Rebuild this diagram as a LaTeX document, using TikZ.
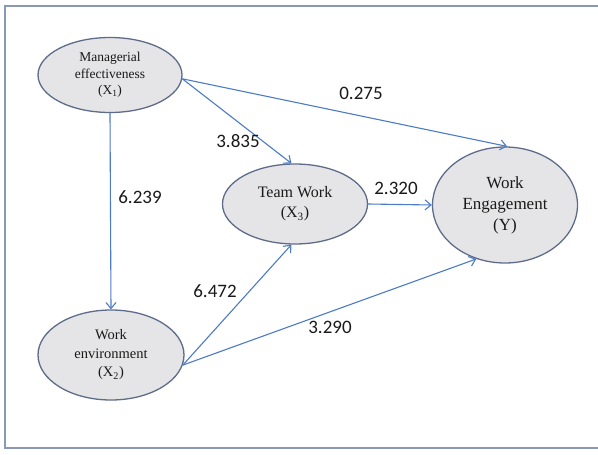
\documentclass[tikz,border=0pt]{standalone}
\usepackage{fontspec}
\setmainfont{Liberation Serif}
\newfontfamily\numfont{Carlito}
\usetikzlibrary{shapes.geometric,arrows.meta}
\definecolor{framec}{HTML}{8A97B5}
\definecolor{ellfill}{HTML}{E5E5E7}
\definecolor{elldraw}{HTML}{5E6C8A}
\definecolor{arrc}{HTML}{4C7CC6}
\definecolor{txtc}{HTML}{1A1A1A}
\begin{document}
\begin{tikzpicture}[x=1pt,y=-1pt,
  var/.style={ellipse, draw=elldraw, fill=ellfill, line width=1.3pt, inner sep=0pt, align=center, text=txtc},
  link/.style={draw=arrc, line width=1.1pt, -{Straight Barb[length=6pt,width=10pt,line width=1.1pt]}},
  coef/.style={font=\numfont\fontsize{19}{21}\selectfont, text=txtc, inner sep=0pt}
]
\useasboundingbox (0,0) rectangle (598,455);
\fill[white] (0,0) rectangle (598,455);
\draw[framec, line width=2pt] (600,6) -- (5,6) -- (5,448) -- (600,448);

\node[var, minimum width=144pt, minimum height=75pt, font=\fontsize{13.5}{16.5}\selectfont] (m) at (110,75) {Managerial\\effectiveness\\(X\textsubscript{1})};
\node[var, minimum width=146pt, minimum height=90pt, font=\fontsize{14.5}{18.5}\selectfont] (w) at (111,355) {Work\\environment\\(X\textsubscript{2})};
\node[var, minimum width=145pt, minimum height=80pt, font=\fontsize{16}{20}\selectfont] (t) at (295,204) {Team Work\\(X\textsubscript{3})};
\node[var, minimum width=145pt, minimum height=116pt, font=\fontsize{17}{21}\selectfont] (e) at (505,205) {Work\\Engagement\\(Y)};

\draw[link] (m.-3) -- (t.95);
\draw[link] (m.-3) -- (e.88);
\draw[link] (m.south) -- (w.north);
\draw[link] (w.-8) -- (t.-95);
\draw[link] (w.-8) -- (e.242);
\draw[link] (t.east) -- (e.west);

\node[coef] (c1) at (238,141) {3.835};
\node[coef] (c2) at (361,93) {0.275};
\node[coef] (c3) at (140,197) {6.239};
\node[coef] (c4) at (215,291) {6.472};
\node[coef] (c5) at (330,327) {3.290};
\node[coef] (c6) at (396,188) {2.320};
\end{tikzpicture}
\end{document}
